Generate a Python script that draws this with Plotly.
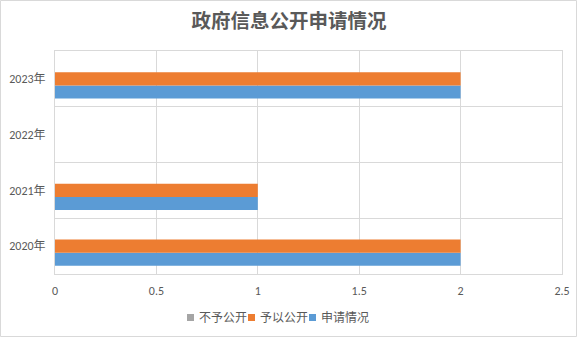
import plotly.graph_objects as go

categories = ["2020年", "2021年", "2022年", "2023年"]
series_names = ["申请情况", "予以公开", "不予公开"]
apply_vals = [2, 1, 0, 2]      # 申请情况
public_vals = [2, 1, 0, 2]     # 予以公开
nonpublic_vals = [0, 0, 0, 0]  # 不予公开
series_values = [apply_vals, public_vals, nonpublic_vals]
series_colors = ["#5B9BD5", "#ED7D31", "#A5A5A5"]

W, H = 578, 338
ML, MR, MT, MB = 55, 16, 51, 64
pw = W - ML - MR
ph = H - MT - MB

fig = go.Figure()
for name, vals, col in zip(series_names, series_values, series_colors):
    fig.add_trace(go.Bar(y=categories, x=vals, orientation="h", name=name,
                         marker=dict(color=col, line=dict(width=0)), showlegend=False))

font_family = "Calibri, 'Liberation Sans', 'Noto Sans CJK SC', sans-serif"

def px2paper_x(p):
    return (p - ML) / pw

def px2paper_y(p):
    return (H - MB - p) / ph

# outer chart border
fig.add_shape(type="rect", xref="paper", yref="paper",
              x0=px2paper_x(0.5), x1=px2paper_x(W - 1.5),
              y0=px2paper_y(H - 1.5), y1=px2paper_y(0.5),
              line=dict(color="#D9D9D9", width=1), fillcolor="rgba(0,0,0,0)", layer="below")

# compact Excel-style legend (reversed order: 不予公开, 予以公开, 申请情况)
legend_x = [187, 248, 309]
legend_cy = 317.5
for lx, name, col in zip(legend_x, series_names[::-1], series_colors[::-1]):
    fig.add_shape(type="rect", xref="paper", yref="paper",
                  x0=px2paper_x(lx), x1=px2paper_x(lx + 7),
                  y0=px2paper_y(legend_cy + 3.5), y1=px2paper_y(legend_cy - 3.5),
                  line=dict(width=0), fillcolor=col)
    fig.add_annotation(xref="paper", yref="paper", x=px2paper_x(lx + 10), y=px2paper_y(legend_cy + 0.5),
                       xanchor="left", yanchor="middle", showarrow=False, text=name,
                       font=dict(family=font_family, size=12, color="#595959"))

fig.update_layout(
    width=W, height=H,
    margin=dict(l=ML, r=MR, t=MT, b=MB, pad=0, autoexpand=False),
    paper_bgcolor="white", plot_bgcolor="white",
    barmode="group", bargap=0.3, bargroupgap=0,
    title=dict(text="<b>政府信息公开申请情况</b>", x=0.5, xref="container", xanchor="center",
               y=1 - 21 / H, yref="container", yanchor="middle", automargin=False,
               font=dict(family="'Noto Sans CJK SC', sans-serif", size=19.5, color="#595959")),
    font=dict(family=font_family, size=12, color="#595959"),
    showlegend=False,
    xaxis=dict(range=[0, 2.5], dtick=0.5, showgrid=True, gridcolor="#D9D9D9", gridwidth=1,
               zeroline=False, showline=True, linecolor="#D9D9D9", mirror=True, automargin=False,
               ticks="", ticklabelstandoff=6, tickfont=dict(size=12, color="#595959"), fixedrange=True),
    yaxis=dict(categoryorder="array", categoryarray=categories, type="category",
               showgrid=True, gridcolor="#D9D9D9", gridwidth=1, tickson="boundaries",
               showline=True, linecolor="#D9D9D9", mirror=True, automargin=False,
               ticks="", ticklabelstandoff=6, tickfont=dict(size=12, color="#595959")),
)

fig.write_html("out.html")
